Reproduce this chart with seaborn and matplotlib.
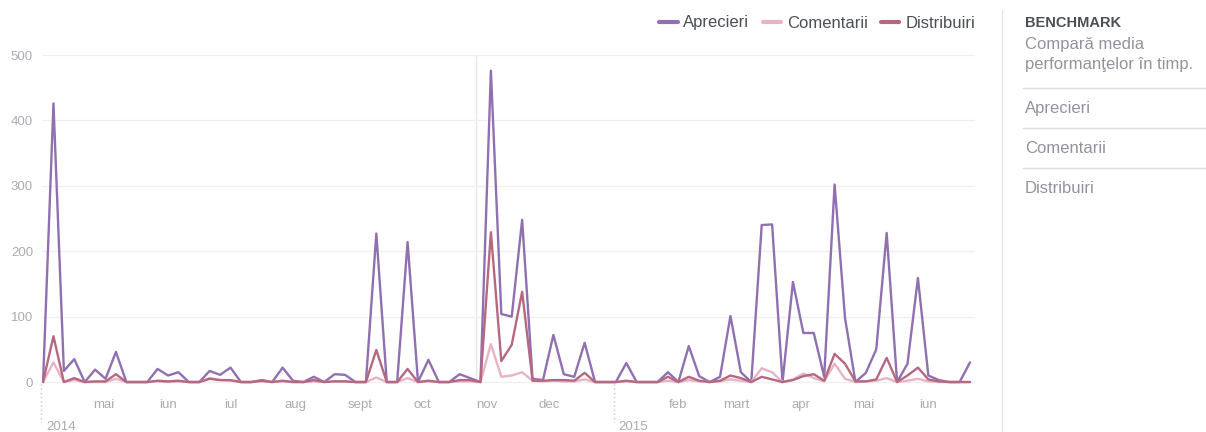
import pandas as pd
import seaborn as sns
import matplotlib

matplotlib.use("Agg")
import matplotlib.pyplot as plt
import matplotlib.dates as mdates
import matplotlib.transforms as mtransforms
from matplotlib.lines import Line2D

# Data: one point every 5 days from mid April 2014
start_date = "2014-04-17"
step = "5D"

aprecieri = [
    0, 426, 17, 35, 0, 19, 5, 46, 0, 0,
    0, 20, 10, 15, 0, 0, 17, 11, 22, 0,
    0, 3, 0, 22, 2, 0, 8, 0, 12, 11,
    0, 0, 227, 0, 0, 214, 0, 34, 0, 0,
    12, 6, 0, 476, 104, 100, 248, 5, 3, 72,
    12, 8, 60, 0, 0, 0, 29, 0, 0, 0,
    15, 0, 55, 9, 0, 8, 101, 15, 0, 240,
    241, 0, 153, 75, 75, 8, 302, 98, 0, 14,
    50, 228, 0, 28, 159, 10, 3, 0, 0, 30,
]
comentarii = [
    0, 30, 0, 3, 0, 0, 0, 5, 0, 0,
    0, 1, 0, 1, 0, 0, 6, 3, 2, 0,
    0, 1, 0, 1, 0, 0, 1, 0, 1, 1,
    0, 0, 7, 0, 0, 6, 0, 1, 0, 0,
    1, 1, 0, 58, 8, 10, 15, 2, 1, 2,
    1, 1, 4, 0, 0, 0, 1, 0, 0, 0,
    2, 0, 3, 1, 0, 1, 4, 2, 0, 21,
    15, 0, 4, 13, 6, 1, 28, 5, 0, 1,
    2, 6, 0, 2, 5, 1, 0, 0, 0, 0,
]
distribuiri = [
    0, 70, 0, 6, 0, 1, 1, 12, 0, 0,
    0, 2, 1, 2, 0, 0, 5, 3, 3, 0,
    0, 2, 0, 2, 0, 0, 3, 0, 1, 1,
    0, 0, 49, 0, 0, 20, 0, 2, 0, 0,
    3, 3, 0, 229, 32, 57, 138, 2, 2, 3,
    3, 2, 14, 0, 0, 0, 2, 0, 0, 0,
    8, 0, 8, 2, 0, 2, 10, 6, 0, 8,
    4, 0, 3, 9, 12, 2, 43, 28, 1, 1,
    4, 37, 0, 10, 22, 4, 1, 0, 0, 0,
]

series_names = ["Aprecieri", "Comentarii", "Distribuiri"]
series_colors = ["#9070b0", "#e6b4c6", "#b5687f"]
y_ticks = [0, 100, 200, 300, 400, 500]
month_names = {1: "ian", 2: "feb", 3: "mart", 4: "apr", 5: "mai", 6: "iun",
               7: "iul", 8: "aug", 9: "sept", 10: "oct", 11: "nov", 12: "dec"}
year_marks = [("2014-04-16", "2014"), ("2015-01-16", "2015")]
hover_date = "2014-11-11"
side_title = "BENCHMARK"
side_text = ["Compară media", "performanţelor în timp."]
side_items = ["Aprecieri", "Comentarii", "Distribuiri"]

dates = pd.date_range(start_date, periods=len(aprecieri), freq=step)
df = pd.DataFrame({
    "date": dates,
    "Aprecieri": aprecieri,
    "Comentarii": comentarii,
    "Distribuiri": distribuiri,
})
long = df.melt(id_vars="date", var_name="metric", value_name="value")

sns.set_style("white")
plt.rcParams["font.family"] = ["Liberation Sans", "DejaVu Sans"]

W, H = 1206, 432
fig = plt.figure(figsize=(W / 100, H / 100), dpi=100)
ax = fig.add_axes([42 / W, 1 - 384 / H, (975 - 42) / W, (384 - 55) / H])

sns.lineplot(
    data=long,
    x="date",
    y="value",
    hue="metric",
    hue_order=series_names,
    palette=series_colors,
    linewidth=1.7,
    ax=ax,
    legend=False,
)

# hover crosshair
ax.axvline(pd.Timestamp(hover_date), color="#e3e7ed", lw=1.0, zorder=0)

ax.set_ylim(-3, 500)
ax.set_xlim(dates[0] - pd.Timedelta(hours=12), dates[-1] + pd.Timedelta(days=2.4))
ax.set_yticks(y_ticks)
ax.yaxis.grid(True, color="#efefef", lw=0.9)
ax.xaxis.grid(False)
ax.set_axisbelow(True)
ax.set_xlabel("")
ax.set_ylabel("")
sns.despine(ax=ax, left=True, bottom=True)

month_starts = pd.date_range("2014-05-01", "2015-07-01", freq="MS")
month_mids = month_starts[:-1] + pd.Timedelta(days=15)
labels = ["" if d.month == 1 else month_names[d.month] for d in month_mids]
ax.set_xticks(mdates.date2num(month_mids.to_pydatetime()))
ax.set_xticklabels(labels)
ax.set_xticks(mdates.date2num(month_starts.to_pydatetime()), minor=True)
ax.tick_params(axis="x", which="major", length=0, pad=11, labelsize=9.5,
               labelcolor="#a9acb1")
ax.tick_params(axis="x", which="minor", length=3, width=0.8, color="#d6d6d6")
ax.tick_params(axis="y", length=0, pad=6.5, labelsize=9.5, labelcolor="#a9acb1")

# year markers below the axis
trans = mtransforms.blended_transform_factory(ax.transData, ax.transAxes)
for day, year in year_marks:
    xd = mdates.date2num(pd.Timestamp(day).to_pydatetime())
    ax.plot([xd, xd], [0, -0.115], transform=trans, ls=(0, (1, 2)),
            color="#c4c6ca", lw=1, clip_on=False)
    ax.annotate(year, xy=(xd, 0), xycoords=trans, xytext=(3.5, -33),
                textcoords="offset points", ha="left", va="baseline",
                fontsize=9.5, color="#a9acb1", annotation_clip=False)

# legend above the plot, right aligned
handles = [Line2D([0], [0], color=c, lw=3) for c in series_colors]
fig.legend(
    handles,
    series_names,
    loc="center right",
    bbox_to_anchor=(975 / W, 1 - 23 / H),
    ncol=3,
    frameon=False,
    fontsize=12,
    handlelength=1.1,
    handletextpad=0.35,
    columnspacing=0.8,
    borderaxespad=0,
    borderpad=0,
    labelcolor="#4b4f56",
)

# side panel
fig.add_artist(Line2D([1002 / W, 1002 / W], [1 - 10 / H, 0],
                      transform=fig.transFigure, color="#e5e6e8", lw=1))
for y in [88, 128, 168]:
    fig.add_artist(Line2D([1023 / W, 1], [1 - y / H, 1 - y / H],
                          transform=fig.transFigure, color="#dddfe2", lw=1))
fig.text(1025 / W, 1 - 27 / H, side_title, fontsize=10.5, weight="bold",
         color="#4b4f56", va="baseline")
for text, base in zip(side_text, [49, 69]):
    fig.text(1025 / W, 1 - base / H, text, fontsize=12, color="#90949c",
             va="baseline")
for text, base in zip(side_items, [113, 153, 193]):
    fig.text(1025 / W, 1 - base / H, text, fontsize=12, color="#90949c",
             va="baseline")

fig.savefig("out.png", dpi=100)
